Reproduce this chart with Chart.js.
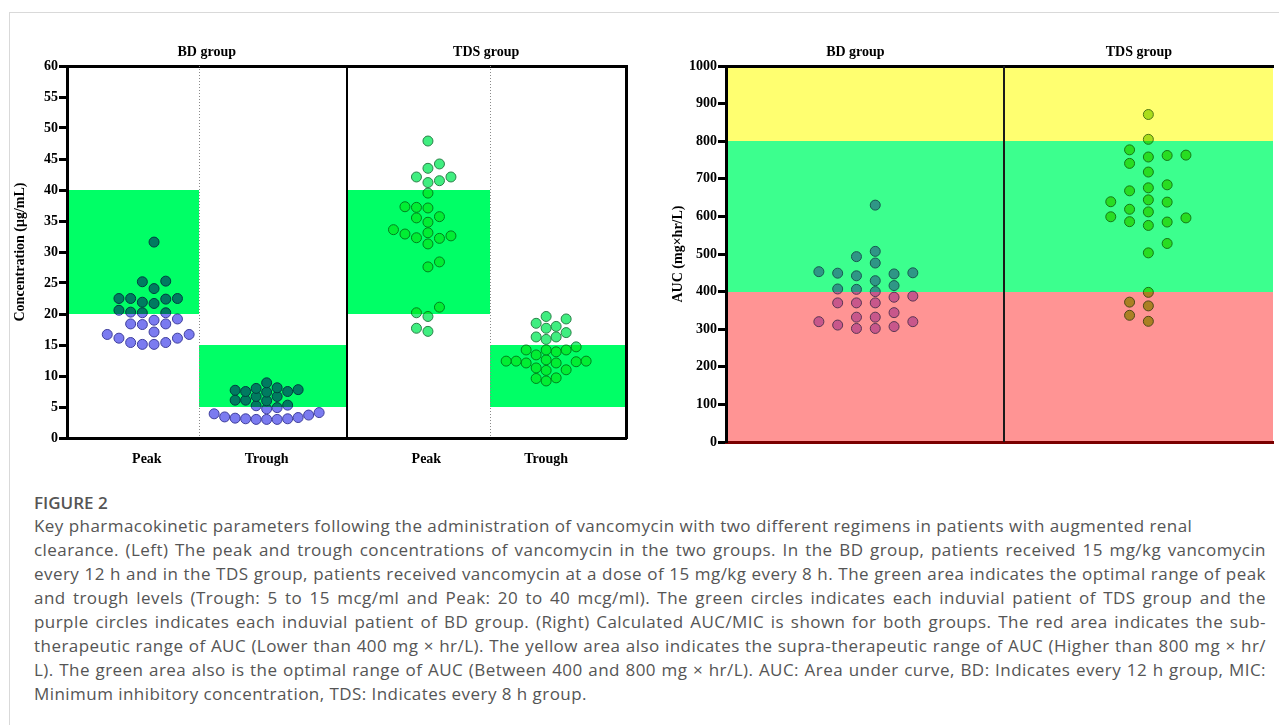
<!DOCTYPE html>
<html>
<head>
<meta charset="utf-8">
<script src="https://cdn.jsdelivr.net/npm/chart.js@4.4.1/dist/chart.umd.min.js"></script>
<style>
  html, body { margin: 0; padding: 0; background: #fff; overflow: hidden; }
  body { width: 1279px; height: 725px; position: relative; }
  #frame { position: absolute; left: 9px; top: 12px; width: 1280px; height: 720px; border-top: 1px solid #d9d9d9; border-left: 1px solid #d9d9d9; }
  #leftBox { position: absolute; left: 0; top: 30px; }
  #rightBox { position: absolute; left: 640px; top: 30px; }
  #caption { position: absolute; left: 34px; top: 492px; font-family: "Open Sans", sans-serif; color: #555; }
  #caption .fig { font-size: 17px; font-weight: 600; line-height: 22px; color: #555; }
  #caption .ln { font-size: 17px; letter-spacing: 0.45px; line-height: 24px; white-space: nowrap; }
  #caption .j { width: 1232px; text-align: justify; text-align-last: justify; }
</style>
</head>
<body>
<div id="frame"></div>
<div id="leftBox"><canvas id="concChart" width="640" height="445"></canvas></div>
<div id="rightBox"><canvas id="aucChart" width="639" height="445"></canvas></div>
<div id="caption">
  <div class="fig">FIGURE 2</div>
  <div class="ln">Key pharmacokinetic parameters following the administration of vancomycin with two different regimens in patients with augmented renal</div>
  <div class="ln j">clearance. (Left) The peak and trough concentrations of vancomycin in the two groups. In the BD group, patients received 15 mg/kg vancomycin</div>
  <div class="ln j">every 12 h and in the TDS group, patients received vancomycin at a dose of 15 mg/kg every 8 h. The green area indicates the optimal range of peak</div>
  <div class="ln j">and trough levels (Trough: 5 to 15 mcg/ml and Peak: 20 to 40 mcg/ml). The green circles indicates each induvial patient of TDS group and the</div>
  <div class="ln j">purple circles indicates each induvial patient of BD group. (Right) Calculated AUC/MIC is shown for both groups. The red area indicates the sub-</div>
  <div class="ln j">therapeutic range of AUC (Lower than 400 mg × hr/L). The yellow area also indicates the supra-therapeutic range of AUC (Higher than 800 mg × hr/</div>
  <div class="ln j">L). The green area also is the optimal range of AUC (Between 400 and 800 mg × hr/L). AUC: Area under curve, BD: Indicates every 12 h group, MIC:</div>
  <div class="ln">Minimum inhibitory concentration, TDS: Indicates every 8 h group.</div>
</div>
<script>
// ---- data ----
var groupNames = ['BD group', 'TDS group'];
var concCategories = ['Peak', 'Trough', 'Peak', 'Trough'];

// concentrations, µg/mL
var bdPeak = [31.6, 25.2, 25.3, 24.1, 22.5, 22.5, 22.4, 22.5, 21.9, 21.7, 20.6, 20.2, 20.2, 20.3,
              19.2, 19.0, 18.4, 18.3, 18.4, 17.1, 16.7, 16.7, 16.1, 16.1, 15.4, 15.4, 15.1, 15.1];
var bdTrough = [8.9, 8.1, 8.0, 7.8, 7.7, 7.5, 7.5, 7.4, 6.7, 6.7, 6.1, 6.1, 6.0, 5.3, 5.2, 4.9,
                4.7, 4.1, 3.9, 3.7, 3.4, 3.3, 3.2, 3.1, 3.1, 3.0, 3.0, 3.0];
var tdsPeak = [47.9, 44.2, 43.5, 42.1, 42.1, 41.5, 41.2, 39.5, 37.2, 37.1, 37.3, 35.5, 35.7, 34.8,
               33.6, 32.6, 33.1, 32.9, 31.3, 32.2, 32.3, 27.6, 28.4, 21.1, 19.6, 20.2, 17.2, 17.7];
var tdsTrough = [19.2, 19.6, 17.7, 18.0, 18.5, 15.9, 16.3, 17.0, 16.3, 14.7, 14.2, 14.2, 13.9, 13.4,
                 14.2, 12.4, 12.4, 12.3, 12.6, 12.1, 12.1, 12.4, 10.9, 11.0, 11.3, 9.2, 9.6, 9.7];

// AUC, mg×hr/L
var bdAuc = [630, 507, 493, 453, 450, 449, 447, 476, 442, 429, 416, 407, 406, 400,
             385, 370, 370, 370, 388, 332, 332, 320, 320, 344, 302, 307, 302, 311];
var tdsAuc = [871, 805, 777, 763, 758, 762, 741, 718, 684, 676, 668, 639, 644, 638,
              612, 619, 599, 596, 586, 576, 585, 528, 503, 398, 372, 362, 337, 321];

// target ranges
var peakRange = [20, 40];
var troughRange = [5, 15];
var aucRanges = [[0, 400], [400, 800], [800, 1000]];

// ---- layout ----
var AXIS_FONT = { family: '"Liberation Serif", "Times New Roman", serif', size: 14, weight: 'bold' };
var L = { w: 640, h: 445, left: 67, right: 14, top: 36, bottom: 37, xMax: 7, yMax: 60, titlePad: 12, groups: [1.75, 5.25] };
var R = { w: 639, h: 445, left: 86, right: 0, top: 36, bottom: 33, xMax: 6.89, yMax: 1000, titlePad: 30, groups: [1.63, 5.2] };
var concSlots = [1, 2.5, 4.5, 6];       // Peak/Trough label centres on the x scale
var concSwarm = [1.09, 2.5, 4.52, 6];   // swarm centres
var concPanels = [0, 1.65, 3.5, 5.3, 7];
var aucSlots = [1.88, 5.32];

// simple beeswarm: spread equal-ish values sideways so circles do not pile up
function swarm(values, centre, pxX, pxY, step, minDist) {
    var order = values.map(function (v, i) { return i; }).sort(function (a, b) { return values[a] - values[b]; });
    var placed = [];
    var out = [];
    order.forEach(function (i, n) {
        var py = values[i] * pxY;
        var sign = (n % 2) ? -1 : 1;
        for (var k = 0; k < 60; k++) {
            var off = k === 0 ? 0 : sign * (k % 2 ? 1 : -1) * Math.ceil(k / 2) * step;
            var ok = placed.every(function (p) { return Math.hypot(p[0] - off, p[1] - py) >= minDist; });
            if (ok) {
                placed.push([off, py]);
                out.push({ x: centre + off / pxX, y: values[i] });
                break;
            }
        }
    });
    return out;
}

function pointSet(label, data, fill, border) {
    return {
        label: label, data: data,
        backgroundColor: fill, borderColor: border, borderWidth: 1,
        pointRadius: 5, pointHoverRadius: 5
    };
}

// bands are multiplied over the dots, like the transparent fills of the original
function bandsPlugin(bands, dividers) {
    return {
        id: 'bands',
        afterDatasetsDraw: function (chart) {
            var ctx = chart.ctx, a = chart.chartArea, x = chart.scales.x, y = chart.scales.y;
            ctx.save();
            ctx.beginPath();
            ctx.rect(a.left, a.top, a.right - a.left, a.bottom - a.top);
            ctx.clip();
            ctx.globalCompositeOperation = 'multiply';
            bands.forEach(function (b) {
                var x0 = Math.round(x.getPixelForValue(b.x[0])), x1 = Math.round(x.getPixelForValue(b.x[1]));
                var y0 = Math.round(y.getPixelForValue(b.y[1])), y1 = Math.round(y.getPixelForValue(b.y[0]));
                ctx.fillStyle = b.color;
                ctx.fillRect(x0, y0, x1 - x0, y1 - y0);
            });
            ctx.globalCompositeOperation = 'source-over';
            dividers.forEach(function (d) {
                var px = Math.round(x.getPixelForValue(d.x)) + (d.width % 2 ? 0.5 : 0);
                ctx.beginPath();
                ctx.setLineDash(d.dash || []);
                ctx.strokeStyle = d.color;
                ctx.lineWidth = d.width;
                ctx.moveTo(px, a.top);
                ctx.lineTo(px, a.bottom);
                ctx.stroke();
            });
            ctx.restore();
        }
    };
}

function fixedSize(prop, size) {
    return function (s) { s[prop] = size; };
}

function slotTicks(slots) {
    return function (s) { s.ticks = slots.map(function (v) { return { value: v }; }); };
}

function baseScales(cfg, bottomLabels, bottomColor, yTitle, yStep) {
    return {
        x: {
            type: 'linear', position: 'bottom', min: 0, max: cfg.xMax,
            border: { display: true, color: bottomColor, width: 3 },
            grid: { display: false, drawTicks: false },
            afterBuildTicks: slotTicks(concSlots),
            afterFit: fixedSize('height', cfg.bottom),
            ticks: {
                display: !!bottomLabels, autoSkip: false, maxRotation: 0, padding: 13,
                color: '#000', font: AXIS_FONT,
                callback: function (v, i) { return bottomLabels ? bottomLabels[i] : ''; }
            }
        },
        xt: {
            type: 'linear', position: 'top', min: 0, max: cfg.xMax,
            border: { display: true, color: '#000', width: 3 },
            grid: { display: false, drawTicks: false },
            afterBuildTicks: slotTicks(cfg.groups),
            afterFit: fixedSize('height', cfg.top),
            ticks: {
                autoSkip: false, maxRotation: 0, padding: 5, color: '#000', font: AXIS_FONT,
                callback: function (v, i) { return groupNames[i]; }
            }
        },
        y: {
            type: 'linear', position: 'left', min: 0, max: cfg.yMax,
            border: { display: true, color: '#000', width: 3 },
            grid: { drawOnChartArea: false, drawTicks: true, tickLength: 8, tickWidth: 3, tickColor: '#000' },
            afterFit: fixedSize('width', cfg.left),
            title: { display: true, text: yTitle, color: '#000', font: AXIS_FONT, padding: { top: cfg.titlePad, bottom: 0 } },
            ticks: {
                stepSize: yStep, padding: 1, color: '#000', font: AXIS_FONT,
                callback: function (v) { return String(v); }
            }
        }
    };
}

function baseOptions(scales) {
    return {
        responsive: false, animation: false, devicePixelRatio: 1,
        layout: { padding: 0 },
        plugins: { legend: { display: false }, tooltip: { enabled: false } },
        scales: scales
    };
}

// ---- left chart: peak / trough concentrations ----
var pxXL = (L.w - L.left - L.right) / L.xMax;
var pxYL = (L.h - L.top - L.bottom) / L.yMax;

var concScales = baseScales(L, concCategories, '#000', 'Concentration (μg/mL)', 5);
concScales.yr = {
    type: 'linear', position: 'right', min: 0, max: L.yMax,
    border: { display: true, color: '#000', width: 3 },
    grid: { display: false },
    ticks: { display: false },
    afterFit: fixedSize('width', L.right)
};

var concBands = [
    { x: [concPanels[0], concPanels[1]], y: peakRange, color: '#00ff66' },
    { x: [concPanels[1], concPanels[2]], y: troughRange, color: '#00ff66' },
    { x: [concPanels[2], concPanels[3]], y: peakRange, color: '#00ff66' },
    { x: [concPanels[3], concPanels[4]], y: troughRange, color: '#00ff66' }
];
var concDividers = [
    { x: concPanels[1], width: 1, color: '#8a8a8a', dash: [1, 2] },
    { x: concPanels[2], width: 2, color: '#000' },
    { x: concPanels[3], width: 1, color: '#8a8a8a', dash: [1, 2] }
];

var ConcChart = new Chart(document.getElementById('concChart'), {
    type: 'scatter',
    data: {
        datasets: [
            pointSet('BD peak', swarm(bdPeak, concSwarm[0], pxXL, pxYL, 11.7, 10.5), '#7b7bf0', '#3e3e9c'),
            pointSet('BD trough', swarm(bdTrough, concSwarm[1], pxXL, pxYL, 10.5, 7.5), '#7b7bf0', '#3e3e9c'),
            pointSet('TDS peak', swarm(tdsPeak, concSwarm[2], pxXL, pxYL, 11.5, 10.5), '#40ee80', '#2a8048'),
            pointSet('TDS trough', swarm(tdsTrough, concSwarm[3], pxXL, pxYL, 10, 9.5), '#40ee80', '#2a8048')
        ]
    },
    options: baseOptions(concScales),
    plugins: [bandsPlugin(concBands, concDividers)]
});

// ---- right chart: AUC ----
var pxXR = (R.w - R.left - R.right) / R.xMax;
var pxYR = (R.h - R.top - R.bottom) / R.yMax;

var aucScales = baseScales(R, null, '#7a0000', 'AUC (mg×hr/L)', 100);
var aucColors = ['#ff9494', '#3cff8e', '#ffff70'];
var aucBands = aucRanges.map(function (r, i) { return { x: [0, R.xMax], y: r, color: aucColors[i] }; });
var aucDividers = [{ x: 3.5, width: 2, color: '#1a1a1a' }];

var AucChart = new Chart(document.getElementById('aucChart'), {
    type: 'scatter',
    data: {
        datasets: [
            pointSet('BD AUC', swarm(bdAuc, aucSlots[0], pxXR, pxYR, 19, 10.5), '#c896f0', '#5a5a8c'),
            pointSet('TDS AUC', swarm(tdsAuc, aucSlots[1], pxXR, pxYR, 19, 10.5), '#aadd3c', '#507828')
        ]
    },
    options: baseOptions(aucScales),
    plugins: [bandsPlugin(aucBands, aucDividers)]
});
</script>
</body>
</html>
